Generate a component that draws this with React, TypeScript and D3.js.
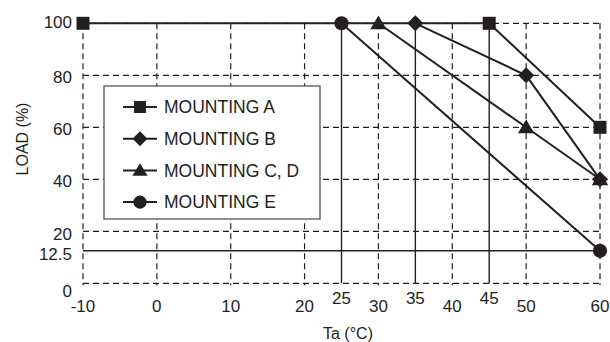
import * as d3 from 'd3';
import React from 'react';

// data
const mountA = [{ t: -10, load: 100 }, { t: 45, load: 100 }, { t: 60, load: 60 }];
const mountB = [{ t: 35, load: 100 }, { t: 50, load: 80 }, { t: 60, load: 40 }];
const mountCD = [{ t: 30, load: 100 }, { t: 50, load: 60 }, { t: 60, load: 40 }];
const mountE = [{ t: 25, load: 100 }, { t: 60, load: 12.5 }];

const seriesNames = ['MOUNTING A', 'MOUNTING B', 'MOUNTING C, D', 'MOUNTING E'];
const seriesShapes = ['square', 'diamond', 'triangle', 'circle'];

const xTicks = [-10, 0, 10, 20, 25, 30, 35, 40, 45, 50, 60];
const xRaisedTicks = [25, 35, 45];
const yTicks = [0, 12.5, 20, 40, 60, 80, 100];
const xGrid = [-10, 0, 10, 20, 30, 40, 50, 60];
const yGrid = [0, 20, 40, 60, 80, 100];
const dropLines = [25, 35, 45];
const refLoad = 12.5;

const INK = '#231f20';
const FONT = 'Liberation Sans, Arial, Helvetica, sans-serif';

function Marker({ shape, x, y, s }: { shape: string; x: number; y: number; s: number }) {
    if (shape === 'square') {
        return <rect x={x - s / 2} y={y - s / 2} width={s} height={s} fill={INK} />;
    }
    if (shape === 'diamond') {
        const h = s * 0.62;
        return <path d={`M${x},${y - h}L${x + h},${y}L${x},${y + h}L${x - h},${y}Z`} fill={INK} />;
    }
    if (shape === 'triangle') {
        const h = s * 0.6;
        return <path d={`M${x},${y - h}L${x + h * 1.05},${y + h * 0.75}L${x - h * 1.05},${y + h * 0.75}Z`} fill={INK} />;
    }
    return <circle cx={x} cy={y} r={s * 0.55} fill={INK} />;
}

export default function App() {
    const width = 610;
    const height = 342;

    const x = d3.scaleLinear().domain([-10, 60]).range([83, 600]);
    const y = d3.scaleLinear().domain([0, 100]).range([283.3, 23.3]);

    const line = d3.line<any>()
        .x((d) => x(d.t))
        .y((d) => y(d.load));

    const allSeries = [mountA, mountB, mountCD, mountE];

    const yLabelShift = (v: number) => {
        if (v === 0) return 8;
        if (v === 20) return 3;
        if (v === 12.5) return 3;
        if (v === 100) return -1;
        return 2;
    };

    const legendX = 104;
    const legendY = 86;
    const legendRow = 31.7;

    return (
        <svg width={width} height={height}
            style={{ position: 'absolute', left: 0, top: 0, background: '#fff' }}
            fontFamily={FONT}>
            {/* dashed grid */}
            <g stroke={INK} strokeWidth={1.2} strokeDasharray="6,4" fill="none">
                {xGrid.map((v) => (
                    <line key={'gx' + v} x1={x(v)} x2={x(v)} y1={y(100)} y2={y(0) + 2} />
                ))}
                {yGrid.map((v) => (
                    <line key={'gy' + v} x1={x(-10)} x2={x(60)} y1={y(v)} y2={y(v)} />
                ))}
            </g>

            {/* solid reference lines */}
            <g stroke={INK} strokeWidth={1.4}>
                <line x1={x(-10)} x2={x(60)} y1={y(refLoad)} y2={y(refLoad)} />
                {dropLines.map((v) => (
                    <line key={'dl' + v} x1={x(v)} x2={x(v)} y1={y(100)} y2={y(0)} />
                ))}
            </g>

            {/* legend box */}
            <rect x={legendX} y={legendY} width={216} height={133}
                fill="#fff" stroke="#555" strokeWidth={1.3} />

            {/* series */}
            {allSeries.map((s, i) => (
                <g key={'s' + i}>
                    <path d={line(s) || ''} fill="none" stroke={INK} strokeWidth={2} />
                    {s.map((d, j) => (
                        <Marker key={j} shape={seriesShapes[i]} x={x(d.t)} y={y(d.load)} s={13} />
                    ))}
                </g>
            ))}

            {/* legend entries */}
            {seriesNames.map((name, i) => {
                const cy = legendY + 21 + i * legendRow;
                return (
                    <g key={'lg' + i}>
                        <line x1={123} x2={157} y1={cy} y2={cy} stroke={INK} strokeWidth={2} />
                        <Marker shape={seriesShapes[i]} x={140} y={cy} s={12} />
                        <text x={164} y={cy} dy="0.36em" fontSize={17.5} fill={INK}>{name}</text>
                    </g>
                );
            })}

            {/* y ticks */}
            {yTicks.map((v) => (
                <text key={'yt' + v} x={72} y={y(v) + yLabelShift(v)} dy="0.36em"
                    textAnchor="end" fontSize={17} fill={INK}>{v}</text>
            ))}

            {/* x ticks */}
            {xTicks.map((v) => (
                <text key={'xt' + v} x={x(v)} y={xRaisedTicks.includes(v) ? 298 : 306} dy="0.36em"
                    textAnchor="middle" fontSize={17} fill={INK}>{v}</text>
            ))}

            {/* axis titles */}
            <text x={348} y={339} textAnchor="middle" fontSize={16} fill={INK}>Ta (°C)</text>
            <text transform="translate(28,139) rotate(-90)" textAnchor="middle" fontSize={16} fill={INK}>LOAD (%)</text>
        </svg>
    );
}
